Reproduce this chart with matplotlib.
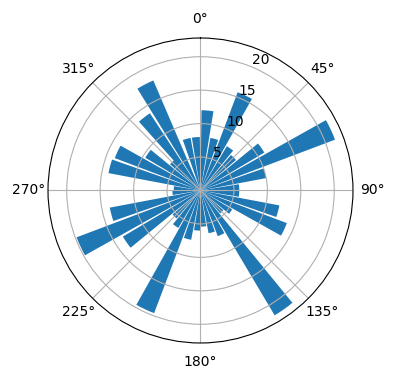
import numpy as np
import matplotlib
matplotlib.use("Agg")
import matplotlib.pyplot as plt

# bar centres in degrees (clockwise from north) and bar lengths
angles_deg = [5, 15, 25, 35, 45, 55, 65, 75, 85,
              95, 105, 115, 125, 135, 145, 155, 165, 175,
              185, 195, 205, 215, 225, 235, 245, 255, 265,
              275, 285, 295, 305, 315, 322.5, 332.5, 345, 355]
radii = [12.0, 8.0, 15.7, 7.7, 7.0, 11.1, 21.5, 10.0, 5.8,
         5.8, 12.0, 13.8, 5.5, 4.5, 21.7, 7.3, 6.5, 5.4,
         6.0, 7.5, 19.6, 6.5, 5.5, 13.5, 19.8, 13.8, 4.2,
         4.0, 14.0, 13.7, 9.6, 6.0, 13.8, 17.9, 8.0, 8.0]
bar_width = 0.15

fig = plt.figure(figsize=(3.96, 3.8), dpi=100)
ax = fig.add_axes([0.1212, 0.0974, 0.7702, 0.8026], projection='polar')
ax.set_theta_zero_location('N')
ax.set_theta_direction(-1)

ax.bar(np.deg2rad(angles_deg), radii, width=bar_width, bottom=0.0, color='#1f77b4')
ax.set_rticks([5, 10, 15, 20])
ax.set_ylim(0, 22.8)

fig.savefig('out.png', dpi=100)
